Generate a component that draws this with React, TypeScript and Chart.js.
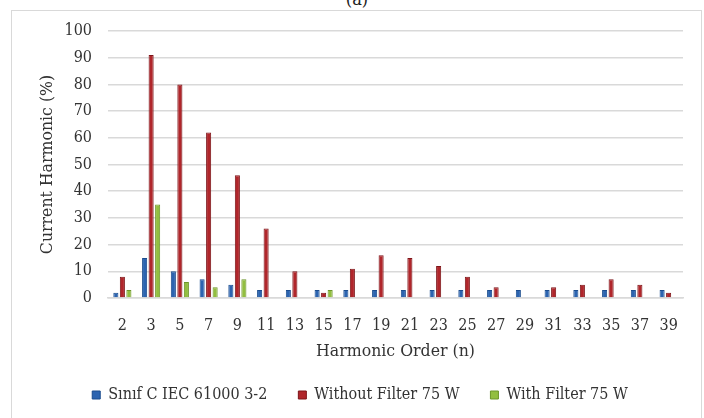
import { useEffect, useRef } from "react";
import { Chart, registerables } from "chart.js";

Chart.register(...registerables);

const harmonicOrders = ["2", "3", "5", "7", "9", "11", "13", "15", "17", "19", "21", "23", "25", "27", "29", "31", "33", "35", "37", "39"];
const classCLimit = [2, 15, 10, 7, 5, 3, 3, 3, 3, 3, 3, 3, 3, 3, 3, 3, 3, 3, 3, 3];
const withoutFilter = [8, 91, 80, 62, 46, 26, 10, 2, 11, 16, 15, 12, 8, 4, 0, 4, 5, 7, 5, 2];
const withFilter = [3, 35, 6, 4, 7, 0, 0, 3, 0, 0, 0, 0, 0, 0, 0, 0, 0, 0, 0, 0];
const seriesNames = ["Sınıf C IEC 61000 3-2", "Without Filter 75 W", "With Filter 75 W"];

const FONT = "'DejaVu Serif Condensed', 'DejaVu Serif', serif";
const TEXT = "#333333";

export default function App() {
  const ref = useRef<HTMLCanvasElement | null>(null);

  useEffect(() => {
    if (!ref.current) return;
    const chart = new Chart(ref.current, {
      type: "bar",
      data: {
        labels: harmonicOrders,
        datasets: [
          {
            label: seriesNames[0],
            data: classCLimit,
            backgroundColor: "#2C64B0",
            borderColor: "#1A4C8E",
            borderWidth: 1,
          },
          {
            label: seriesNames[1],
            data: withoutFilter,
            backgroundColor: "#B0262B",
            borderColor: "#7D1519",
            borderWidth: 1,
          },
          {
            label: seriesNames[2],
            data: withFilter,
            backgroundColor: "#92BE40",
            borderColor: "#6C962A",
            borderWidth: 1,
          },
        ],
      },
      options: {
        responsive: false,
        animation: false,
        devicePixelRatio: 1,
        layout: { padding: { left: 37, right: 21, top: 31, bottom: 5 } },
        datasets: {
          bar: { categoryPercentage: 0.68, barPercentage: 0.78 },
        },
        plugins: {
          tooltip: { enabled: false },
          legend: {
            position: "bottom",
            labels: {
              boxWidth: 8,
              boxHeight: 8,
              padding: 31,
              color: TEXT,
              font: { family: FONT, size: 16 },
            },
          },
        },
        scales: {
          x: {
            grid: { display: false, drawTicks: false },
            border: { display: true, color: "#D9D9D9", width: 1.5 },
            ticks: { color: TEXT, font: { family: FONT, size: 16 }, padding: 18, maxRotation: 0, autoSkip: false },
            title: {
              display: true,
              text: "Harmonic Order (n)",
              color: TEXT,
              font: { family: FONT, size: 17.5 },
              padding: { top: 0, bottom: -6 },
            },
            afterFit: (s: any) => {
              s.height = 58;
            },
          },
          y: {
            min: 0,
            max: 100,
            ticks: { stepSize: 10, color: TEXT, font: { family: FONT, size: 16 }, padding: 16 },
            grid: { color: "#D9D9D9", lineWidth: 1.5, drawTicks: false },
            border: { display: false },
            title: {
              display: true,
              text: "Current Harmonic (%)",
              color: TEXT,
              font: { family: FONT, size: 17.5 },
              padding: 0,
            },
            afterFit: (s: any) => {
              s.width = 71;
            },
          },
        },
      },
    });
    return () => chart.destroy();
  }, []);

  return (
    <div style={{ position: "absolute", left: 0, top: 0, width: 704, height: 418, overflow: "hidden", background: "#fff" }}>
      <div
        style={{
          position: "absolute",
          left: 0,
          top: -12,
          width: 714,
          textAlign: "center",
          fontFamily: FONT,
          fontSize: 18,
          color: "#222",
        }}
      >
        (a)
      </div>
      <div
        style={{
          position: "absolute",
          left: 11,
          top: 10,
          width: 689,
          height: 430,
          border: "1.5px solid #D9D9D9",
        }}
      />
      <canvas ref={ref} width={704} height={418} style={{ position: "absolute", left: 0, top: 0 }} />
    </div>
  );
}
